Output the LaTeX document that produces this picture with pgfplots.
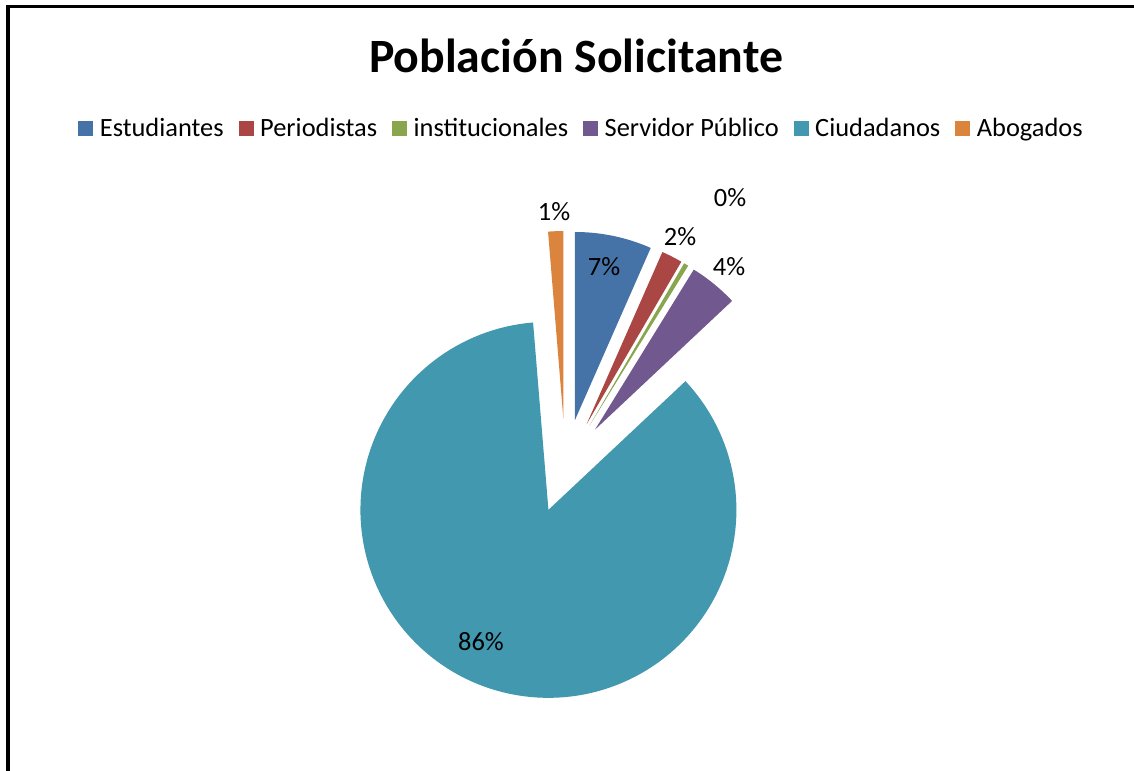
\documentclass[border=0pt]{standalone}
\usepackage{pgfplots}
\usepackage{pgfplotstable}
\pgfplotsset{compat=1.18}
\usepackage{fontspec}
\setmainfont{Carlito}

\definecolor{cEst}{HTML}{4572A7}
\definecolor{cPer}{HTML}{AA4643}
\definecolor{cIns}{HTML}{89A54E}
\definecolor{cSer}{HTML}{71588F}
\definecolor{cCiu}{HTML}{4198AF}
\definecolor{cAbo}{HTML}{DB843D}

% percentages
\pgfplotstableread{
cat value
Estudiantes 6.6
Periodistas 1.8
institucionales 0.4
ServidorPublico 4.2
Ciudadanos 85.7
Abogados 1.3
}\piedata

\def\cx{565.3}
\def\cy{305}
\def\R{188}
\def\ex{47}
\def\curang{0}
\newcommand\slice[3]{%
  \pgfplotstablegetelem{#1}{value}\of\piedata
  \pgfmathsetmacro\endang{\curang+3.6*\pgfplotsretval}%
  \pgfmathsetmacro\midang{(\curang+\endang)/2}%
  \pgfmathsetmacro\vx{\cx+\ex*sin(\midang)}%
  \pgfmathsetmacro\vy{\cy+\ex*cos(\midang)}%
  \edef\tmp{\noexpand\addplot[fill=#2,draw=none,domain=\curang:\endang,samples=150,variable=\noexpand\t] ({\vx+\R*sin(\noexpand\t)},{\vy+\R*cos(\noexpand\t)}) -- (axis cs:\vx,\vy) -- cycle;}%
  \tmp
  \addlegendentry{#3}%
  \global\let\curang\endang}

\begin{document}
\begin{tikzpicture}
\path[use as bounding box] (0,0) rectangle (1134bp,771bp);
\fill[white] (0,0) rectangle (1134bp,771bp);
\begin{axis}[
  at={(0,0)}, anchor=south west,
  scale only axis, width=1134bp, height=771bp,
  xmin=0, xmax=1134, ymin=0, ymax=771,
  hide axis, clip=false,
  legend image code/.code={\fill[#1] (0bp,-7.5bp) rectangle (15bp,7.5bp);},
  legend columns=-1,
  legend style={draw=none, fill=none, inner sep=0pt, outer sep=0pt,
    at={(axis cs:580.5,642.5)}, anchor=center,
    font=\fontsize{26.5}{31}\selectfont,
    nodes={inner sep=0pt},
    /tikz/every odd column/.append style={column sep=6.5bp},
    /tikz/every even column/.append style={column sep=15bp}},
]
\slice{0}{cEst}{Estudiantes}
\slice{1}{cPer}{Periodistas}
\slice{2}{cIns}{institucionales}
\slice{3}{cSer}{Servidor Público}
\slice{4}{cCiu}{Ciudadanos}
\slice{5}{cAbo}{Abogados}

\node[anchor=base, font=\bfseries\fontsize{48}{56}\selectfont] at (axis cs:576,771-72.7) {Población Solicitante};

\begin{scope}[every node/.style={font=\fontsize{26.5}{31}\selectfont, inner sep=0pt}]
\node at (axis cs:604,771-267) {7\%};
\node at (axis cs:680,771-237) {2\%};
\node at (axis cs:730,771-198) {0\%};
\node at (axis cs:729,771-267) {4\%};
\node at (axis cs:481,771-642) {86\%};
\node at (axis cs:554,771-212) {1\%};
\end{scope}

\draw[line width=3.5bp, line join=miter] (axis cs:8,0) -- (axis cs:8,764.3) -- (axis cs:1134,764.3);
\end{axis}
\end{tikzpicture}
\end{document}
